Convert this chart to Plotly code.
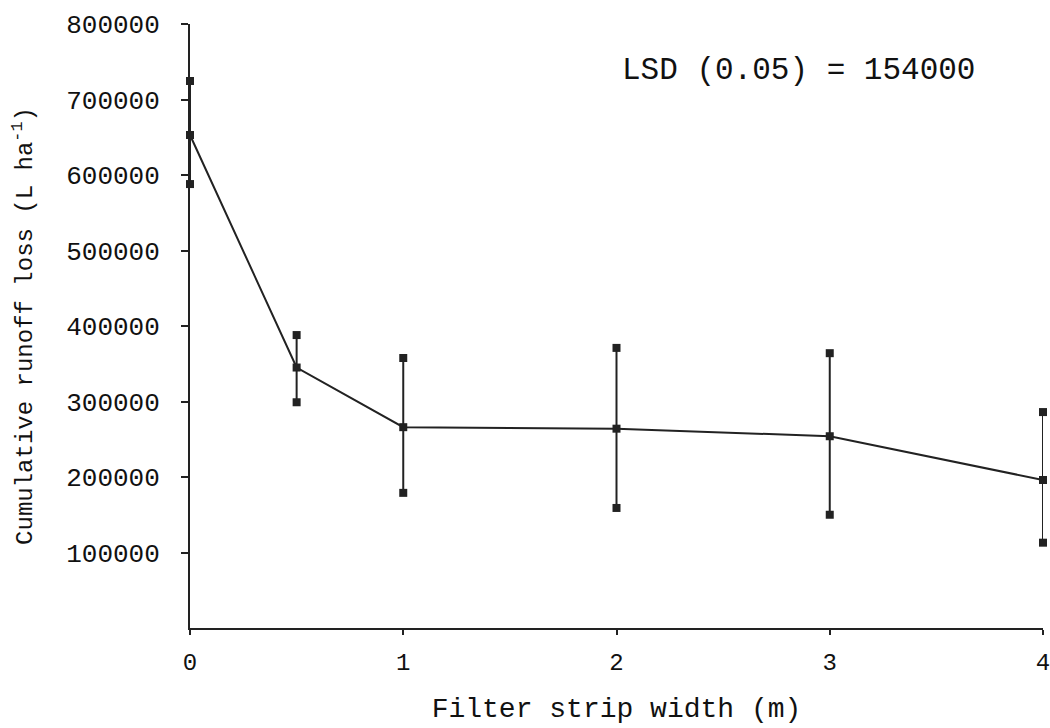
import plotly.graph_objects as go

width_m = [0, 0.5, 1, 2, 3, 4]
runoff_mean = [653000, 345000, 266000, 264000, 254000, 196000]
runoff_upper = [724500, 388000, 357600, 371000, 364000, 286000]
runoff_lower = [588000, 299000, 179000, 159000, 150000, 113000]

y_tickvals = [100000, 200000, 300000, 400000, 500000, 600000, 700000, 800000]
y_ticktext = ["100000", "200000", "300000", "400000", "500000", "600000", "700000", "800000"]
x_tickvals = [0, 1, 2, 3, 4]
x_ticktext = ["0", "1", "2", "3", "4"]

FONT = "Liberation Mono, Courier New, monospace"
INK = "#222222"

err_plus = [u - m for u, m in zip(runoff_upper, runoff_mean)]
err_minus = [m - l for m, l in zip(runoff_mean, runoff_lower)]

fig = go.Figure()
fig.add_trace(go.Scatter(
    x=width_m, y=runoff_mean, mode="lines+markers",
    line=dict(color=INK, width=2),
    marker=dict(symbol="square", size=8, color=INK),
    error_y=dict(type="data", array=err_plus, arrayminus=err_minus,
                 color=INK, thickness=2, width=0, visible=True),
    cliponaxis=False, showlegend=False,
))
fig.add_trace(go.Scatter(
    x=width_m, y=runoff_upper, mode="markers",
    marker=dict(symbol="square", size=8, color=INK),
    cliponaxis=False, showlegend=False,
))
fig.add_trace(go.Scatter(
    x=width_m, y=runoff_lower, mode="markers",
    marker=dict(symbol="square", size=8, color=INK),
    cliponaxis=False, showlegend=False,
))

fig.add_annotation(
    x=4, y=1, xref="x", yref="paper", xanchor="right", yanchor="middle",
    xshift=-66, yshift=-46,
    text="LSD (0.05) = 154000", showarrow=False,
    font=dict(family=FONT, size=31, color="#111111"),
)

fig.update_layout(
    width=1050, height=728,
    margin=dict(l=190, r=7, t=24, b=100, autoexpand=False),
    paper_bgcolor="white", plot_bgcolor="white",
    font=dict(family=FONT, color="#111111"),
    xaxis=dict(
        range=[0, 4], tickvals=x_tickvals, ticktext=x_ticktext,
        showgrid=False, zeroline=False, showline=True, linecolor=INK, linewidth=2,
        ticks="outside", ticklen=5, tickwidth=1.5, tickcolor=INK,
        tickfont=dict(family=FONT, size=24), ticklabelstandoff=6,
        ticklabeloverflow="allow", automargin=False,
        title=dict(text="Filter strip width (m)", font=dict(family=FONT, size=28), standoff=22),
    ),
    yaxis=dict(
        range=[0, 800000], tickvals=y_tickvals, ticktext=y_ticktext,
        showgrid=False, zeroline=False, showline=True, linecolor=INK, linewidth=2,
        ticks="outside", ticklen=7, tickwidth=1.5, tickcolor=INK,
        tickfont=dict(family=FONT, size=26), ticklabelstandoff=16,
        title=dict(text="Cumulative runoff loss (L ha<sup>-1</sup>)", font=dict(family=FONT, size=24), standoff=27),
    ),
)

fig.write_html(
    "out.html",
    config={"displayModeBar": False},
    post_script="document.body.style.margin='0';document.body.style.overflow='hidden';",
)
